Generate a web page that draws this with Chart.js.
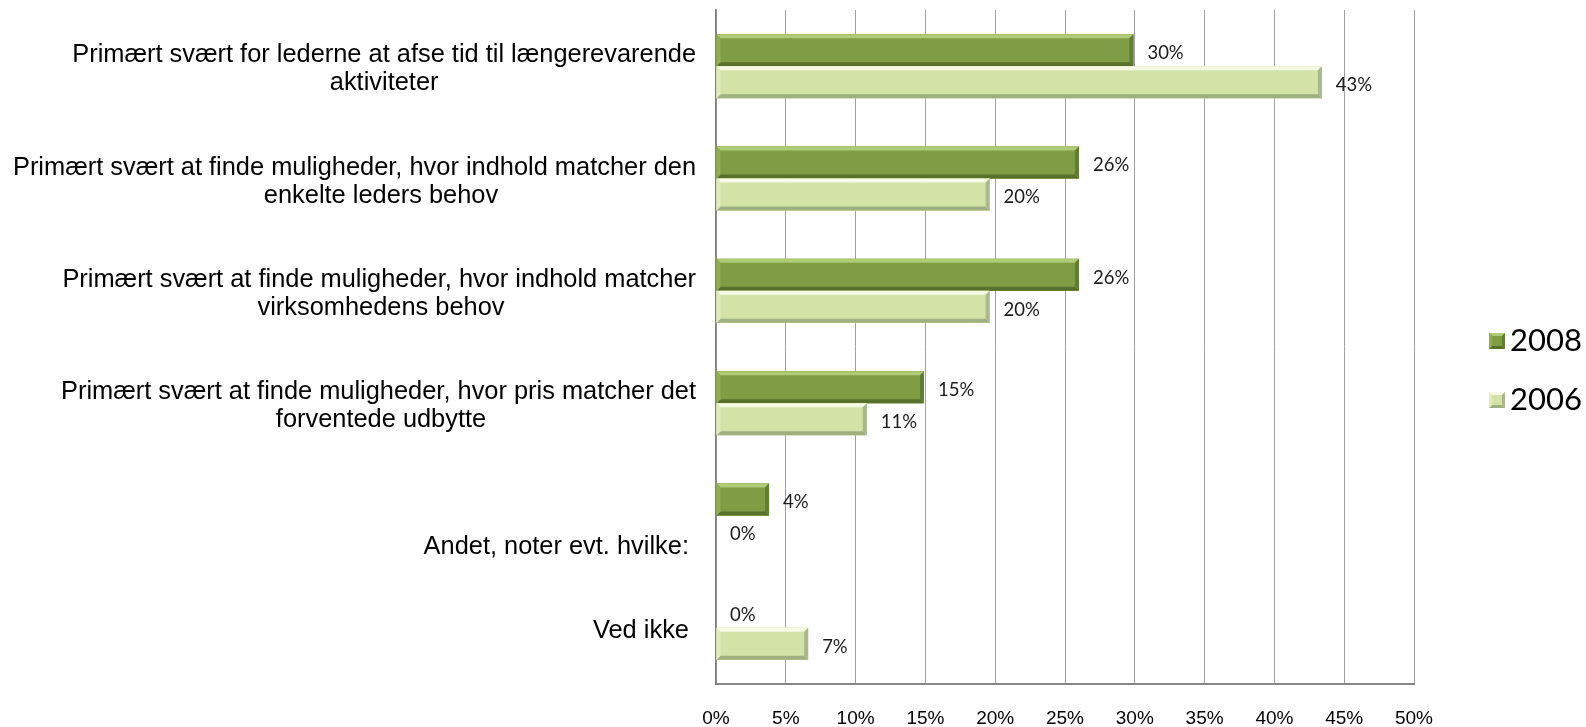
<!DOCTYPE html>
<html><head><meta charset="utf-8">
<script src="https://cdn.jsdelivr.net/npm/chart.js@4"></script>
<style>html,body{margin:0;padding:0;background:#fff;}canvas{display:block;}</style>
</head><body>
<canvas id="c" width="1586" height="727"></canvas>
<script>
// ---- data ----
const categories = [
  ["Primært svært for lederne at afse tid til længerevarende", "aktiviteter"],
  ["Primært svært at finde muligheder, hvor indhold matcher den", "enkelte leders behov"],
  ["Primært svært at finde muligheder, hvor indhold matcher", "virksomhedens behov"],
  ["Primært svært at finde muligheder, hvor pris matcher det", "forventede udbytte"],
  ["", "", "Andet, noter evt. hvilke: "],
  ["Ved ikke "]
];
const seriesNames = ["2008", "2006"];
const values2008 = [29.9, 26.0, 26.0, 14.9, 3.8, 0];
const values2006 = [43.4, 19.6, 19.6, 10.8, 0, 6.6];
const xMin = 0, xMax = 50, xStep = 5;

// ---- styles ----
const STYLES = [
  {main:'#7f9d45', top:'#b0cb78', left:'#8fae55', right:'#627e31', bottom:'#58712a'},
  {main:'#d3e3a7', top:'#f6fae4', left:'#e1ecbe', right:'#a9b98b', bottom:'#9fb080'}
];
const LABEL_FONT = '25.4px "Liberation Sans"';
const LABEL_LINE = 28;
const LABEL_WRAP = 630;
const LABEL_GAP = 20;

function bevelRect(ctx, x0, y0, x1, y1, s, bw) {
  const w = x1 - x0, h = y1 - y0;
  if (w <= 0 || h <= 0) return;
  const b = Math.min(bw, w / 2, h / 2);
  ctx.fillStyle = s.main; ctx.fillRect(x0, y0, w, h);
  const poly = (pts, c) => { ctx.beginPath(); ctx.moveTo(pts[0][0], pts[0][1]); for (let i = 1; i < pts.length; i++) ctx.lineTo(pts[i][0], pts[i][1]); ctx.closePath(); ctx.fillStyle = c; ctx.fill(); };
  poly([[x0,y0],[x1,y0],[x1-b,y0+b],[x0+b,y0+b]], s.top);
  poly([[x0,y1],[x1,y1],[x1-b,y1-b],[x0+b,y1-b]], s.bottom);
  poly([[x0,y0],[x0+b,y0+b],[x0+b,y1-b],[x0,y1]], s.left);
  poly([[x1,y0],[x1-b,y0+b],[x1-b,y1-b],[x1,y1]], s.right);
}

const bevelPlugin = {
  id: 'bevel',
  afterDatasetsDraw(chart) {
    const ctx = chart.ctx;
    ctx.save();
    chart.data.datasets.forEach((ds, di) => {
      const meta = chart.getDatasetMeta(di);
      meta.data.forEach((el, i) => {
        const p = el.getProps(['x', 'y', 'base', 'height'], true);
        const x0 = Math.min(p.x, p.base), x1 = Math.max(p.x, p.base);
        bevelRect(ctx, x0, p.y - p.height / 2, x1, p.y + p.height / 2, STYLES[di], 4);
      });
    });
    // data labels
    ctx.font = '18.5px Lato';
    ctx.fillStyle = '#1a1a1a';
    ctx.textAlign = 'left';
    ctx.textBaseline = 'middle';
    chart.data.datasets.forEach((ds, di) => {
      const meta = chart.getDatasetMeta(di);
      meta.data.forEach((el, i) => {
        const p = el.getProps(['x', 'y'], true);
        ctx.fillText(Math.round(ds.data[i]) + '%', p.x + 14, p.y + 3);
      });
    });
    ctx.restore();
  },
  afterDraw(chart) {
    const ctx = chart.ctx;
    const ys = chart.scales.y;
    ctx.save();
    ctx.font = LABEL_FONT;
    ctx.fillStyle = '#000';
    ctx.textBaseline = 'middle';
    const right = ys.right - LABEL_GAP;
    chart.data.labels.forEach((lines, i) => {
      const yc = ys.getPixelForValue(i) + 3;
      const widths = lines.map(l => ctx.measureText(l).width);
      const block = Math.min(Math.max(...widths), LABEL_WRAP);
      const cx = right - block / 2;
      const y0 = yc - (lines.length - 1) * LABEL_LINE / 2;
      lines.forEach((l, k) => {
        if (widths[k] > block) { ctx.textAlign = 'right'; ctx.fillText(l, right, y0 + k * LABEL_LINE); }
        else { ctx.textAlign = 'center'; ctx.fillText(l, cx, y0 + k * LABEL_LINE); }
      });
    });
    // legend
    const area = chart.chartArea;
    const lx = area.right + 75, ly = 341, lgap = 59, box = 16;
    ctx.font = '31px Lato';
    ctx.textAlign = 'left';
    chart.data.datasets.forEach((ds, di) => {
      const y = ly + di * lgap;
      bevelRect(ctx, lx, y - box / 2, lx + box, y + box / 2, STYLES[di], 3);
      ctx.fillStyle = '#000';
      ctx.fillText(ds.label, lx + box + 5, y);
    });
    ctx.restore();
  }
};

new Chart(document.getElementById('c'), {
  type: 'bar',
  data: {
    labels: categories,
    datasets: [
      {label: seriesNames[0], data: values2008, backgroundColor: STYLES[0].main, borderWidth: 0, categoryPercentage: 0.569, barPercentage: 1},
      {label: seriesNames[1], data: values2006, backgroundColor: STYLES[1].main, borderWidth: 0, categoryPercentage: 0.569, barPercentage: 1}
    ]
  },
  options: {
    indexAxis: 'y',
    responsive: false,
    devicePixelRatio: 1,
    animation: false,
    layout: {padding: {top: 10, left: 0, right: 172, bottom: 0}},
    plugins: {legend: {display: false}, tooltip: {enabled: false}},
    scales: {
      x: {
        min: xMin, max: xMax,
        ticks: {stepSize: xStep, callback: v => v + '%', font: {family: 'Liberation Sans', size: 19}, color: '#000', padding: 23, maxRotation: 0, autoSkip: false},
        grid: {color: '#a0a0a0', lineWidth: 1, drawTicks: false},
        border: {color: '#868686', width: 2},
        afterFit(s) { s.height = 43; }
      },
      y: {
        ticks: {display: false},
        grid: {display: false, drawTicks: false},
        border: {color: '#7f7f7f', width: 1.5},
        afterFit(s) { s.width = 716; }
      }
    }
  },
  plugins: [bevelPlugin]
});
</script>
</body></html>
